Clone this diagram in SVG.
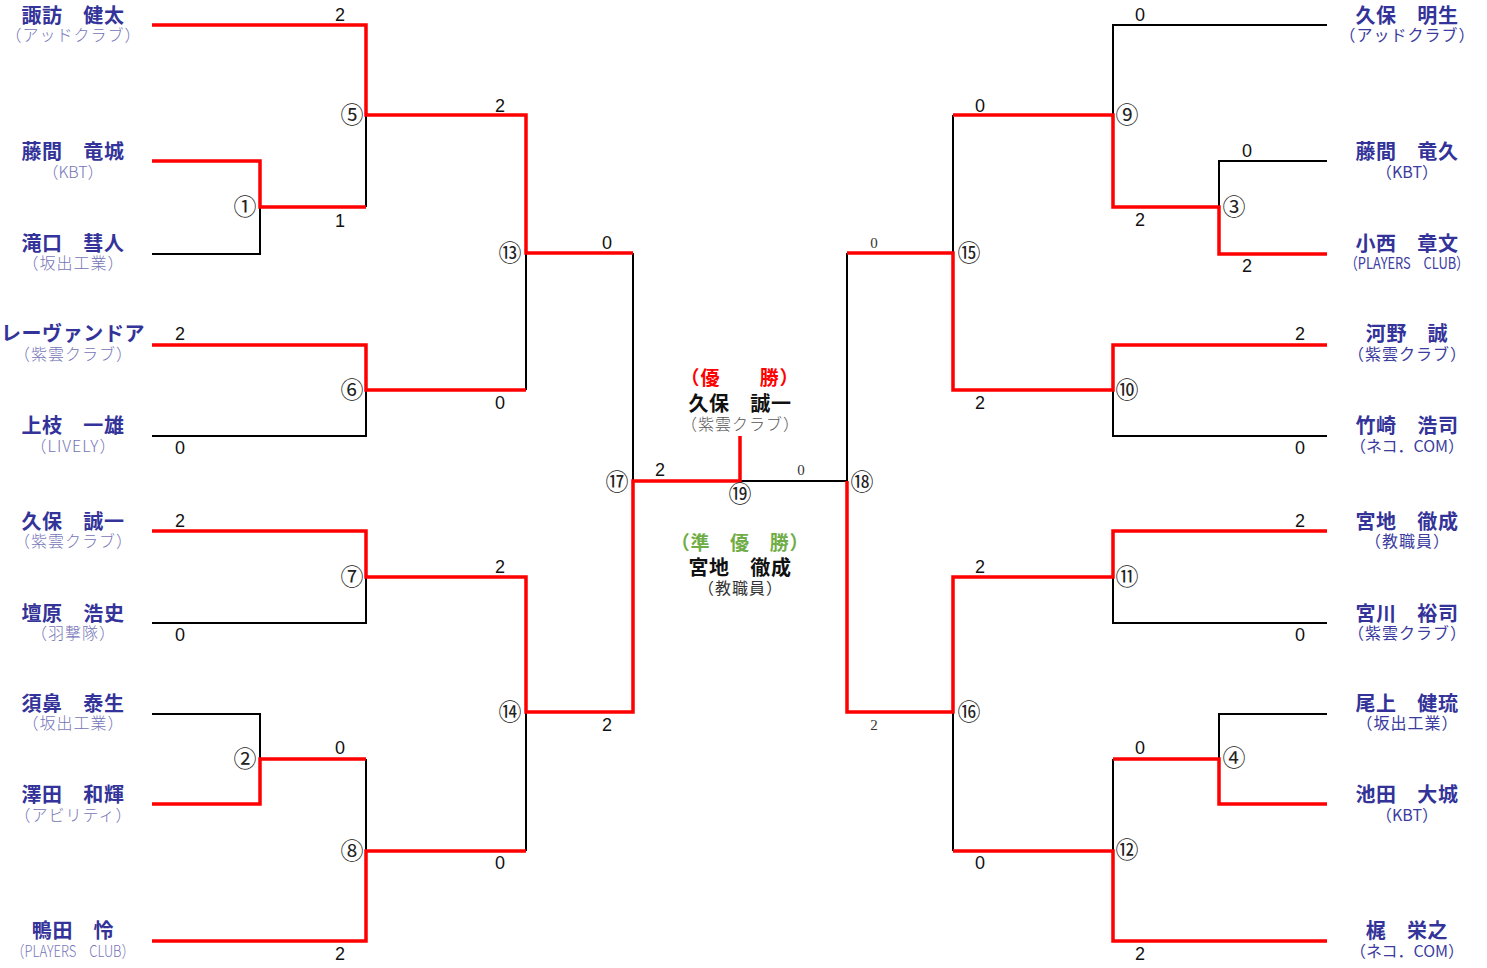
<svg xmlns="http://www.w3.org/2000/svg" width="1487" height="968" viewBox="0 0 1487 968">
<style>
.nm{font-family:"Noto Sans CJK JP","Noto Sans",sans-serif;font-weight:bold;font-size:20px;letter-spacing:0.6px;fill:#333399;text-anchor:middle}
.sl{font-family:"Noto Sans CJK JP","Noto Sans",sans-serif;font-weight:300;font-size:16px;fill:#7474b8;text-anchor:middle}
.sr{font-family:"Noto Sans CJK JP","Noto Sans",sans-serif;font-size:16px;fill:#3c3ca0;text-anchor:middle}
.ls{letter-spacing:1px}
.sc{font-family:"Liberation Sans",Arial,sans-serif;font-size:18px;fill:#111;text-anchor:middle}
.ss{font-family:"Liberation Serif","Times New Roman",serif;font-size:15px;fill:#333;text-anchor:middle}
.mt{font-family:"Noto Sans CJK JP",sans-serif;font-size:23px;fill:#222;text-anchor:middle}
.red{fill:none;stroke:#ff0000;stroke-width:3.5;stroke-linejoin:miter}
.blk{fill:none;stroke:#000;stroke-width:2}
.cn{font-family:"Noto Sans CJK JP",sans-serif;font-weight:bold;font-size:20px;letter-spacing:0.6px;fill:#111;text-anchor:middle}
.ct{font-family:"Noto Sans CJK JP",sans-serif;font-weight:bold;font-size:19px;letter-spacing:0.8px;text-anchor:middle}
</style>
<rect width="1487" height="968" fill="#fff"/>
<g id="connectors">
<path class="blk" d="M366 115V207M152 254H260V207M366 390V436H152M526 253V390M633 253V481M366 577V623H152M152 714H260V759M366 759V851M526 712V851M740 481H847M847 253V481M953 115V253M1327 25H1113V115M1327 161H1219V207M1113 390V436H1327M1113 577V623H1327M953 712V851M1113 759V850M1327 714H1219V759"/>
<path class="red" d="M152 25H366V115H526V253H633"/>
<path class="red" d="M152 161H260V207H366"/>
<path class="red" d="M152 345H366V390H526"/>
<path class="red" d="M152 531H366V577H526V712H633V481H740V436"/>
<path class="red" d="M152 804H260V759H366"/>
<path class="red" d="M152 941H366V851H526"/>
<path class="red" d="M847 481V712H953V577H1113V531H1327"/>
<path class="red" d="M847 253H953V390H1113V345H1327"/>
<path class="red" d="M953 115H1113V207H1219V254H1327"/>
<path class="red" d="M953 851H1113V941H1327"/>
<path class="red" d="M1113 759H1219V804H1327"/>
</g>
<g id="scores">
<text class="sc" x="340" y="21">2</text>
<text class="sc" x="340" y="227">1</text>
<text class="sc" x="500" y="112">2</text>
<text class="sc" x="607" y="249">0</text>
<text class="sc" x="180" y="340">2</text>
<text class="sc" x="180" y="454">0</text>
<text class="sc" x="500" y="409">0</text>
<text class="sc" x="180" y="527">2</text>
<text class="sc" x="180" y="641">0</text>
<text class="sc" x="500" y="573">2</text>
<text class="sc" x="660" y="476">2</text>
<text class="sc" x="607" y="731">2</text>
<text class="sc" x="340" y="754">0</text>
<text class="sc" x="500" y="869">0</text>
<text class="sc" x="340" y="960">2</text>
<text class="ss" x="801" y="475">0</text>
<text class="ss" x="874" y="248">0</text>
<text class="ss" x="874" y="730">2</text>
<text class="sc" x="980" y="112">0</text>
<text class="sc" x="980" y="409">2</text>
<text class="sc" x="1140" y="21">0</text>
<text class="sc" x="1140" y="226">2</text>
<text class="sc" x="1247" y="157">0</text>
<text class="sc" x="1247" y="272">2</text>
<text class="sc" x="1300" y="340">2</text>
<text class="sc" x="1300" y="454">0</text>
<text class="sc" x="980" y="573">2</text>
<text class="sc" x="980" y="869">0</text>
<text class="sc" x="1300" y="527">2</text>
<text class="sc" x="1300" y="641">0</text>
<text class="sc" x="1140" y="754">0</text>
<text class="sc" x="1140" y="960">2</text>
</g>
<g id="matches">
<text class="mt" x="245" y="215">①</text>
<text class="mt" x="352" y="123">⑤</text>
<text class="mt" x="352" y="398">⑥</text>
<text class="mt" x="352" y="585">⑦</text>
<text class="mt" x="245" y="767">②</text>
<text class="mt" x="352" y="859">⑧</text>
<text class="mt" x="510" y="261">⑬</text>
<text class="mt" x="510" y="720">⑭</text>
<text class="mt" x="617" y="490">⑰</text>
<text class="mt" x="740" y="502">⑲</text>
<text class="mt" x="862" y="490">⑱</text>
<text class="mt" x="969" y="261">⑮</text>
<text class="mt" x="969" y="720">⑯</text>
<text class="mt" x="1127" y="123">⑨</text>
<text class="mt" x="1234" y="215">③</text>
<text class="mt" x="1127" y="398">⑩</text>
<text class="mt" x="1127" y="585">⑪</text>
<text class="mt" x="1127" y="858">⑫</text>
<text class="mt" x="1234" y="766">④</text>
</g>
<g id="p-suwa"><text class="nm" x="73" y="22.5">諏訪　健太</text><text class="sl ls" x="73.5" y="41">（アッドクラブ）</text></g>
<g id="p-toma-ryuki"><text class="nm" x="73" y="158.5">藤間　竜城</text><text class="sl" x="73" y="178">（KBT）</text></g>
<g id="p-takiguchi"><text class="nm" x="73" y="250.5">滝口　彗人</text><text class="sl ls" x="73.5" y="269">（坂出工業）</text></g>
<g id="p-levandoa"><text class="nm" x="73" y="340.5">レーヴァンドア</text><text class="sl ls" x="73.5" y="360">（紫雲クラブ）</text></g>
<g id="p-uwaeda"><text class="nm" x="73" y="432.5">上枝　一雄</text><text class="sl ls" x="73.5" y="452">（LIVELY）</text></g>
<g id="p-kubo-seiichi"><text class="nm" x="73" y="528.5">久保　誠一</text><text class="sl ls" x="73.5" y="547">（紫雲クラブ）</text></g>
<g id="p-danbara"><text class="nm" x="73" y="620.5">壇原　浩史</text><text class="sl ls" x="73.5" y="639">（羽撃隊）</text></g>
<g id="p-subana"><text class="nm" x="73" y="710.5">須鼻　泰生</text><text class="sl ls" x="73.5" y="729">（坂出工業）</text></g>
<g id="p-sawada"><text class="nm" x="73" y="801.5">澤田　和輝</text><text class="sl ls" x="73.5" y="821">（アビリティ）</text></g>
<g id="p-kamoda"><text class="nm" x="73" y="937.5">鴨田　怜</text><text class="sl" x="73" y="957" textLength="123" lengthAdjust="spacingAndGlyphs">（PLAYERS　CLUB）</text></g>
<g id="p-kubo-akio"><text class="nm" x="1407" y="22.5">久保　明生</text><text class="sr ls" x="1407.5" y="41">（アッドクラブ）</text></g>
<g id="p-toma-ryuku"><text class="nm" x="1407" y="158.5">藤間　竜久</text><text class="sr" x="1407" y="178">（KBT）</text></g>
<g id="p-konishi"><text class="nm" x="1407" y="250.5">小西　章文</text><text class="sr" x="1407" y="269" textLength="124" lengthAdjust="spacingAndGlyphs">（PLAYERS　CLUB）</text></g>
<g id="p-kono"><text class="nm" x="1407" y="340.5">河野　誠</text><text class="sr ls" x="1407.5" y="360">（紫雲クラブ）</text></g>
<g id="p-takezaki"><text class="nm" x="1407" y="432.5">竹崎　浩司</text><text class="sr" x="1407" y="452">（ネコ．COM）</text></g>
<g id="p-miyaji"><text class="nm" x="1407" y="528.5">宮地　徹成</text><text class="sr ls" x="1407.5" y="547">（教職員）</text></g>
<g id="p-miyagawa"><text class="nm" x="1407" y="620.5">宮川　裕司</text><text class="sr ls" x="1407.5" y="639">（紫雲クラブ）</text></g>
<g id="p-onoue"><text class="nm" x="1407" y="710.5">尾上　健琉</text><text class="sr ls" x="1407.5" y="729">（坂出工業）</text></g>
<g id="p-ikeda"><text class="nm" x="1407" y="801.5">池田　大城</text><text class="sr" x="1407" y="821">（KBT）</text></g>
<g id="p-kaji"><text class="nm" x="1407" y="937.5">梶　栄之</text><text class="sr" x="1407" y="957">（ネコ．COM）</text></g>
<g id="champion">
<text class="ct" x="740" y="385" style="fill:#ff0000">（優　　勝）</text>
<text class="cn" x="740" y="410.5">久保　誠一</text>
<text class="sl ls" x="740.5" y="430" style="fill:#555">（紫雲クラブ）</text>
</g>
<g id="runner-up">
<text class="ct" x="740" y="550" style="fill:#70ad47">（準　優　勝）</text>
<text class="cn" x="740" y="574.5">宮地　徹成</text>
<text class="sl ls" x="740.5" y="594" style="fill:#333;font-weight:400">（教職員）</text>
</g>
</svg>
